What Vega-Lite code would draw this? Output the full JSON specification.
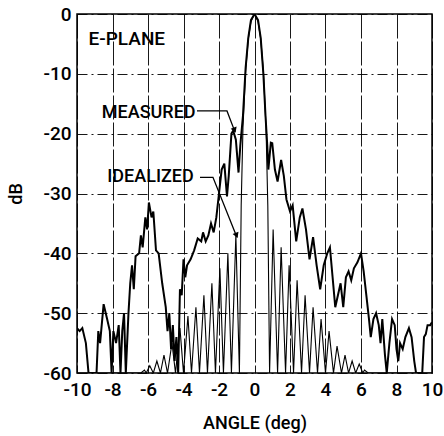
{
  "$schema": "https://vega.github.io/schema/vega-lite/v6.json",
  "autosize": "none",
  "width": 355,
  "height": 359,
  "padding": {"left": 77, "top": 14, "right": 12, "bottom": 63},
  "background": "white",
  "config": {
    "font": "Roboto",
    "view": {"stroke": "black", "strokeWidth": 1.5},
    "axis": {
      "labelFont": "Roboto",
      "titleFont": "Roboto",
      "labelColor": "black",
      "titleColor": "black",
      "labelFontSize": 19,
      "labelFontWeight": 500,
      "labelOverlap": false,
      "labelBound": false,
      "labelFlush": false,
      "titleFontSize": 18,
      "titleFontWeight": 500,
      "ticks": false,
      "domain": false,
      "gridColor": "black",
      "gridOpacity": 0.9,
      "gridWidth": 1
    }
  },
  "datasets": {
    "measured": [
      {"angle": -10, "db": -52.5}, {"angle": -9.85, "db": -53}, {"angle": -9.7, "db": -52.5}, {"angle": -9.5, "db": -55},
      {"angle": -9.35, "db": -60}, {"angle": -8.9, "db": -60}, {"angle": -8.8, "db": -53}, {"angle": -8.7, "db": -55},
      {"angle": -8.5, "db": -48.5}, {"angle": -8.3, "db": -51}, {"angle": -8.15, "db": -53}, {"angle": -8.05, "db": -60},
      {"angle": -7.95, "db": -53}, {"angle": -7.8, "db": -55}, {"angle": -7.65, "db": -52}, {"angle": -7.55, "db": -60},
      {"angle": -7.45, "db": -53}, {"angle": -7.35, "db": -50}, {"angle": -7.25, "db": -60}, {"angle": -7.1, "db": -50},
      {"angle": -7.0, "db": -45}, {"angle": -6.9, "db": -42}, {"angle": -6.8, "db": -46}, {"angle": -6.7, "db": -40.5},
      {"angle": -6.5, "db": -40}, {"angle": -6.4, "db": -37}, {"angle": -6.3, "db": -39}, {"angle": -6.15, "db": -34},
      {"angle": -6.05, "db": -36}, {"angle": -5.95, "db": -31.5}, {"angle": -5.8, "db": -34}, {"angle": -5.7, "db": -33},
      {"angle": -5.55, "db": -39.5}, {"angle": -5.4, "db": -40}, {"angle": -5.2, "db": -45}, {"angle": -5.0, "db": -49},
      {"angle": -4.9, "db": -53}, {"angle": -4.8, "db": -50}, {"angle": -4.7, "db": -56}, {"angle": -4.6, "db": -52},
      {"angle": -4.5, "db": -58}, {"angle": -4.4, "db": -54}, {"angle": -4.3, "db": -60}, {"angle": -4.2, "db": -46},
      {"angle": -4.1, "db": -47}, {"angle": -4.0, "db": -41}, {"angle": -3.9, "db": -44}, {"angle": -3.8, "db": -42},
      {"angle": -3.6, "db": -41}, {"angle": -3.4, "db": -39.5}, {"angle": -3.2, "db": -37.5}, {"angle": -3.0, "db": -38},
      {"angle": -2.9, "db": -36.5}, {"angle": -2.75, "db": -38}, {"angle": -2.6, "db": -37}, {"angle": -2.45, "db": -35},
      {"angle": -2.3, "db": -36.5}, {"angle": -2.15, "db": -34}, {"angle": -2.0, "db": -30}, {"angle": -1.85, "db": -26},
      {"angle": -1.7, "db": -25}, {"angle": -1.55, "db": -30.5}, {"angle": -1.45, "db": -27}, {"angle": -1.3, "db": -20},
      {"angle": -1.2, "db": -19.5}, {"angle": -1.05, "db": -21}, {"angle": -0.9, "db": -26.5}, {"angle": -0.8, "db": -22},
      {"angle": -0.65, "db": -17}, {"angle": -0.5, "db": -9}, {"angle": -0.35, "db": -4}, {"angle": -0.2, "db": -1},
      {"angle": 0, "db": 0}, {"angle": 0.2, "db": -1}, {"angle": 0.35, "db": -4}, {"angle": 0.5, "db": -10},
      {"angle": 0.62, "db": -17}, {"angle": 0.72, "db": -22}, {"angle": 0.78, "db": -26}, {"angle": 0.92, "db": -21.5},
      {"angle": 1.0, "db": -21.6}, {"angle": 1.15, "db": -26}, {"angle": 1.3, "db": -28}, {"angle": 1.5, "db": -24.4},
      {"angle": 1.65, "db": -27}, {"angle": 1.8, "db": -31}, {"angle": 2.0, "db": -33}, {"angle": 2.15, "db": -32},
      {"angle": 2.35, "db": -38}, {"angle": 2.55, "db": -34}, {"angle": 2.7, "db": -32.5}, {"angle": 2.9, "db": -36},
      {"angle": 3.1, "db": -41}, {"angle": 3.3, "db": -37.3}, {"angle": 3.5, "db": -42}, {"angle": 3.7, "db": -46},
      {"angle": 3.9, "db": -42}, {"angle": 4.1, "db": -40}, {"angle": 4.25, "db": -39}, {"angle": 4.4, "db": -44},
      {"angle": 4.55, "db": -49}, {"angle": 4.7, "db": -47}, {"angle": 4.85, "db": -45}, {"angle": 5.0, "db": -49},
      {"angle": 5.15, "db": -44}, {"angle": 5.3, "db": -43}, {"angle": 5.45, "db": -44.5}, {"angle": 5.6, "db": -42.5},
      {"angle": 5.8, "db": -41.5}, {"angle": 6.0, "db": -40}, {"angle": 6.15, "db": -43}, {"angle": 6.3, "db": -47},
      {"angle": 6.45, "db": -51}, {"angle": 6.55, "db": -54}, {"angle": 6.7, "db": -51}, {"angle": 6.85, "db": -50},
      {"angle": 7.0, "db": -52}, {"angle": 7.1, "db": -55}, {"angle": 7.2, "db": -51}, {"angle": 7.35, "db": -57},
      {"angle": 7.45, "db": -60}, {"angle": 7.6, "db": -55}, {"angle": 7.75, "db": -51}, {"angle": 7.9, "db": -52},
      {"angle": 8.0, "db": -56}, {"angle": 8.1, "db": -58}, {"angle": 8.2, "db": -55}, {"angle": 8.35, "db": -56},
      {"angle": 8.5, "db": -54}, {"angle": 8.7, "db": -52.5}, {"angle": 8.85, "db": -54}, {"angle": 9.0, "db": -58},
      {"angle": 9.1, "db": -60}, {"angle": 9.45, "db": -60}, {"angle": 9.55, "db": -54}, {"angle": 9.65, "db": -53.5},
      {"angle": 9.75, "db": -52}, {"angle": 9.9, "db": -52}, {"angle": 10, "db": -51.5}
    ],
    "idealized": [
      {"angle": -10, "db": -60}, {"angle": -6.4, "db": -60}, {"angle": -6.2, "db": -59.5}, {"angle": -6.1, "db": -60},
      {"angle": -5.9, "db": -58.8}, {"angle": -5.7, "db": -60}, {"angle": -5.5, "db": -58}, {"angle": -5.3, "db": -60},
      {"angle": -5.1, "db": -57}, {"angle": -4.9, "db": -60}, {"angle": -4.65, "db": -55}, {"angle": -4.45, "db": -60},
      {"angle": -4.2, "db": -52.5}, {"angle": -4.0, "db": -60}, {"angle": -3.75, "db": -50.5}, {"angle": -3.55, "db": -60},
      {"angle": -3.3, "db": -49}, {"angle": -3.1, "db": -60}, {"angle": -2.85, "db": -47}, {"angle": -2.65, "db": -60},
      {"angle": -2.4, "db": -45}, {"angle": -2.2, "db": -60}, {"angle": -1.95, "db": -42.5}, {"angle": -1.75, "db": -60},
      {"angle": -1.5, "db": -40}, {"angle": -1.3, "db": -60}, {"angle": -1.05, "db": -37}, {"angle": -0.85, "db": -60},
      {"angle": -0.75, "db": -32}, {"angle": -0.65, "db": -19}, {"angle": -0.5, "db": -9.5}, {"angle": -0.35, "db": -4.2},
      {"angle": -0.2, "db": -1.3}, {"angle": 0, "db": 0}, {"angle": 0.2, "db": -1.3}, {"angle": 0.35, "db": -4.2},
      {"angle": 0.5, "db": -9.5}, {"angle": 0.65, "db": -19}, {"angle": 0.75, "db": -32}, {"angle": 0.85, "db": -60},
      {"angle": 1.05, "db": -36}, {"angle": 1.3, "db": -60}, {"angle": 1.5, "db": -39}, {"angle": 1.75, "db": -60},
      {"angle": 1.95, "db": -42}, {"angle": 2.2, "db": -60}, {"angle": 2.4, "db": -44.5}, {"angle": 2.65, "db": -60},
      {"angle": 2.85, "db": -47}, {"angle": 3.1, "db": -60}, {"angle": 3.3, "db": -49}, {"angle": 3.55, "db": -60},
      {"angle": 3.75, "db": -51}, {"angle": 4.0, "db": -60}, {"angle": 4.2, "db": -53}, {"angle": 4.45, "db": -60},
      {"angle": 4.65, "db": -55.5}, {"angle": 4.9, "db": -60}, {"angle": 5.1, "db": -57}, {"angle": 5.3, "db": -60},
      {"angle": 5.5, "db": -58}, {"angle": 5.7, "db": -60}, {"angle": 5.9, "db": -58.5}, {"angle": 6.1, "db": -60},
      {"angle": 6.2, "db": -59.5}, {"angle": 6.4, "db": -60}, {"angle": 10, "db": -60}
    ],
    "leaders": [
      {"leader": "measured", "step": 1, "angle": -3.24, "db": -16.2},
      {"leader": "measured", "step": 2, "angle": -1.55, "db": -16.2},
      {"leader": "measured", "step": 3, "angle": -1.1, "db": -19.7},
      {"leader": "idealized", "step": 1, "angle": -3.07, "db": -27.3},
      {"leader": "idealized", "step": 2, "angle": -2.34, "db": -27.3},
      {"leader": "idealized", "step": 3, "angle": -0.99, "db": -37.3}
    ],
    "heads": [
      {"angle": -1.12, "db": -19.4, "rot": -21},
      {"angle": -1.01, "db": -37.0, "rot": -22}
    ],
    "labels": [
      {"angle": -9.35, "db": -4.2, "text": "E-PLANE", "pos": "left"},
      {"angle": -3.32, "db": -16.6, "text": "MEASURED", "pos": "right"},
      {"angle": -3.42, "db": -27.2, "text": "IDEALIZED", "pos": "right"}
    ]
  },
  "encoding": {
    "x": {
      "field": "angle", "type": "quantitative",
      "scale": {"domain": [-10, 10], "nice": false, "zero": false},
      "axis": {
        "values": [-10, -8, -6, -4, -2, 0, 2, 4, 6, 8, 10],
        "title": "ANGLE (deg)",
        "labelExpr": "datum.value + ''",
        "labelPadding": 7,
        "titlePadding": 15,
        "gridDash": [24, 3]
      }
    },
    "y": {
      "field": "db", "type": "quantitative",
      "scale": {"domain": [-60, 0], "nice": false, "zero": false},
      "axis": {
        "values": [-60, -50, -40, -30, -20, -10, 0],
        "title": "dB",
        "labelExpr": "datum.value + ''",
        "labelPadding": 6,
        "titlePadding": 17,
        "gridDash": [10, 4, 2, 4]
      }
    }
  },
  "layer": [
    {
      "data": {"name": "idealized"},
      "mark": {"type": "line", "color": "black", "strokeWidth": 1.1, "clip": true}
    },
    {
      "data": {"name": "measured"},
      "mark": {"type": "line", "color": "black", "strokeWidth": 2, "clip": true}
    },
    {
      "data": {"name": "leaders"},
      "mark": {"type": "line", "color": "black", "strokeWidth": 1.3},
      "encoding": {"detail": {"field": "leader"}, "order": {"field": "step", "type": "quantitative"}}
    },
    {
      "data": {"name": "heads"},
      "mark": {"type": "point", "shape": "triangle-down", "filled": true, "color": "black", "size": 40, "opacity": 1},
      "encoding": {"angle": {"field": "rot", "type": "quantitative", "scale": null}}
    },
    {
      "data": {"name": "labels"},
      "transform": [{"filter": "datum.pos == 'left'"}],
      "mark": {"type": "text", "align": "left", "baseline": "middle", "fontSize": 19, "fontWeight": 500, "color": "black"},
      "encoding": {"text": {"field": "text"}}
    },
    {
      "data": {"name": "labels"},
      "transform": [{"filter": "datum.pos == 'right'"}],
      "mark": {"type": "text", "align": "right", "baseline": "middle", "fontSize": 18, "fontWeight": 500, "color": "black"},
      "encoding": {"text": {"field": "text"}}
    }
  ]
}
